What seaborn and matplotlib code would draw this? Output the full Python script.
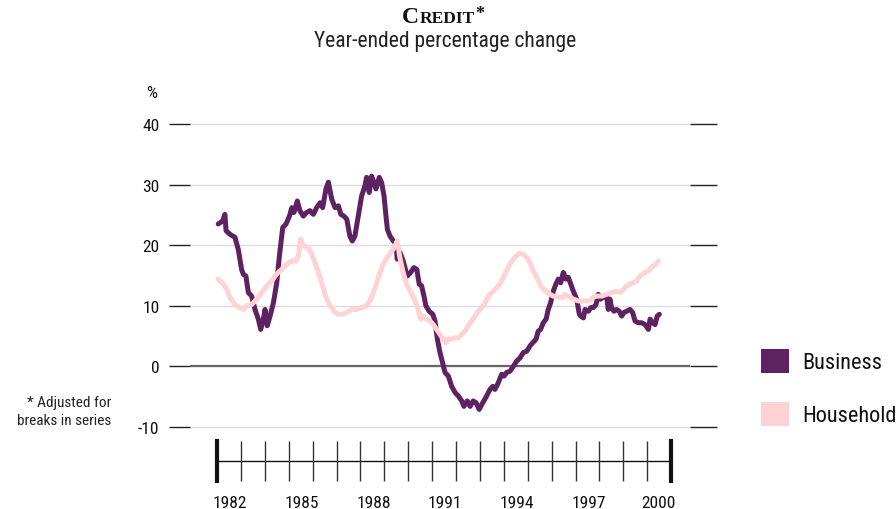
import matplotlib
matplotlib.use("Agg")
import matplotlib.pyplot as plt
from matplotlib import font_manager
from matplotlib.patches import Patch
import pandas as pd
import seaborn as sns

# ---- data (year-ended % change) ----------------------------------------------
BUSINESS_YEAR = [
    1982.05, 1982.24, 1982.33, 1982.38, 1982.54, 1982.75, 1982.89,
    1983.03, 1983.10, 1983.21, 1983.31, 1983.45, 1983.59, 1983.73, 1983.83, 1983.94,
    1984.01, 1984.10, 1984.22, 1984.36, 1984.50, 1984.61, 1984.75, 1984.89,
    1985.03, 1985.13, 1985.22, 1985.36, 1985.47, 1985.61, 1985.75, 1985.89,
    1986.03, 1986.17, 1986.31, 1986.42, 1986.56, 1986.66, 1986.80, 1986.94,
    1987.08, 1987.18, 1987.31, 1987.43, 1987.56, 1987.66, 1987.77, 1987.91,
    1988.05, 1988.19, 1988.26, 1988.37, 1988.47, 1988.57, 1988.65, 1988.79, 1988.89, 1988.99,
    1989.07, 1989.13, 1989.24, 1989.38, 1989.49, 1989.54, 1989.66, 1989.79, 1989.96,
    1990.10, 1990.24, 1990.36, 1990.46, 1990.56, 1990.66, 1990.74, 1990.88,
    1991.03, 1991.12, 1991.22, 1991.33, 1991.44, 1991.54, 1991.68, 1991.82, 1991.96,
    1992.10, 1992.24, 1992.33, 1992.47, 1992.59, 1992.72, 1992.84, 1992.97,
    1993.12, 1993.28, 1993.42, 1993.54, 1993.63, 1993.77, 1993.91,
    1994.01, 1994.12, 1994.26, 1994.40, 1994.54, 1994.68, 1994.82, 1994.96,
    1995.10, 1995.21, 1995.35, 1995.44, 1995.54, 1995.65, 1995.77, 1995.86, 1995.96,
    1996.07, 1996.18, 1996.28, 1996.38, 1996.49, 1996.60, 1996.70, 1996.80, 1996.91,
    1997.05, 1997.16, 1997.22, 1997.33, 1997.40, 1997.54, 1997.64, 1997.74, 1997.86, 1997.95,
    1998.05, 1998.16, 1998.31, 1998.37, 1998.44, 1998.51, 1998.61, 1998.72, 1998.83, 1998.93,
    1999.03, 1999.14, 1999.28, 1999.39, 1999.49, 1999.63, 1999.77, 1999.91,
    2000.05, 2000.12, 2000.23, 2000.33, 2000.42, 2000.51,
]
BUSINESS_VAL = [
    23.5, 24.0, 25.1, 22.4, 21.8, 21.3, 19.3,
    16.0, 15.2, 14.9, 12.2, 11.6, 9.4, 7.8, 6.1, 7.8,
    9.4, 6.7, 8.3, 10.5, 13.8, 18.2, 22.9, 23.5,
    24.8, 26.2, 25.4, 27.3, 25.7, 24.8, 25.4, 25.7,
    25.1, 26.2, 27.0, 26.2, 29.3, 30.4, 27.6, 26.2,
    26.5, 25.1, 24.8, 24.3, 21.5, 20.7, 21.5, 24.8,
    28.1, 29.8, 31.2, 28.7, 31.4, 30.3, 29.3, 31.2, 30.3, 28.1,
    24.8, 22.6, 21.5, 20.7, 20.2, 17.7, 18.8, 17.4, 14.9,
    15.5, 16.3, 16.0, 13.6, 13.3, 11.6, 10.0, 9.1,
    8.6, 7.5, 4.5, 2.3, 0.6, -1.0, -1.6, -3.3, -4.3,
    -4.9, -5.7, -6.6, -5.7, -6.6, -5.7, -6.0, -7.1,
    -6.0, -4.9, -3.8, -3.3, -3.8, -2.7, -1.3,
    -1.6, -1.0, -0.8, 0.0, 0.9, 1.4, 2.3, 2.5,
    3.4, 3.9, 4.5, 5.8, 6.1, 7.2, 7.8, 9.4, 10.5,
    12.4, 13.6, 14.4, 13.8, 15.5, 14.4, 14.7, 13.6, 12.4,
    11.1, 8.6, 8.3, 8.0, 9.4, 9.1, 9.7, 9.7, 10.2, 11.9,
    11.1, 11.4, 11.4, 9.4, 11.1, 9.7, 9.1, 9.4, 9.1, 8.3,
    8.9, 9.1, 9.4, 8.9, 7.5, 7.2, 7.2, 6.9,
    6.1, 7.8, 7.2, 6.9, 8.3, 8.6,
]
HOUSEHOLD_YEAR = [
    1982.05, 1982.26, 1982.41, 1982.54, 1982.75, 1982.96,
    1983.10, 1983.24, 1983.45, 1983.66, 1983.87,
    1984.08, 1984.29, 1984.43, 1984.56, 1984.71, 1984.92,
    1985.13, 1985.31, 1985.40, 1985.50, 1985.61, 1985.82, 1985.96,
    1986.10, 1986.24, 1986.38, 1986.52, 1986.66, 1986.80, 1986.94,
    1987.08, 1987.22, 1987.43, 1987.64, 1987.85,
    1988.05, 1988.26, 1988.40, 1988.54, 1988.68, 1988.82, 1988.96,
    1989.13, 1989.27, 1989.41, 1989.54, 1989.66, 1989.79, 1989.93,
    1990.07, 1990.21, 1990.32, 1990.42, 1990.52, 1990.63, 1990.77, 1990.91,
    1991.05, 1991.19, 1991.33, 1991.47, 1991.58, 1991.68, 1991.82, 1991.96,
    1992.10, 1992.24, 1992.38, 1992.51, 1992.66, 1992.79, 1992.93,
    1993.08, 1993.21, 1993.42, 1993.56, 1993.70, 1993.84, 1993.98,
    1994.12, 1994.26, 1994.40, 1994.54, 1994.68, 1994.82, 1994.96,
    1995.10, 1995.23, 1995.38, 1995.51, 1995.65, 1995.79, 1995.93,
    1996.07, 1996.28, 1996.49, 1996.56, 1996.70, 1996.91,
    1997.12, 1997.40, 1997.61, 1997.74, 1997.89,
    1998.10, 1998.31, 1998.51, 1998.72, 1998.86,
    1999.00, 1999.14, 1999.28, 1999.42, 1999.56, 1999.70, 1999.91,
    2000.12, 2000.26, 2000.37, 2000.47,
]
HOUSEHOLD_VAL = [
    14.4, 13.6, 12.7, 11.4, 10.2, 9.7,
    9.4, 10.0, 10.2, 11.1, 12.2,
    13.3, 14.1, 14.9, 15.5, 16.0, 16.9,
    17.4, 17.4, 18.2, 21.0, 19.9, 19.6, 18.5,
    17.1, 15.5, 13.8, 11.9, 10.5, 9.7, 8.9,
    8.6, 8.6, 8.9, 9.4, 9.4,
    9.7, 10.0, 10.8, 12.2, 13.8, 15.5, 16.9,
    18.0, 18.8, 19.6, 20.7, 17.8, 15.5, 13.6,
    12.5, 11.4, 10.5, 9.4, 7.8, 8.3, 7.8, 7.5,
    6.9, 6.1, 5.3, 4.5, 3.9, 4.5, 4.5, 4.7,
    4.7, 5.3, 5.8, 6.7, 7.5, 8.3, 9.1,
    9.7, 10.5, 12.0, 12.4, 13.0, 13.6, 14.7,
    15.8, 16.9, 17.7, 18.3, 18.7, 18.5, 18.0,
    17.1, 15.8, 14.7, 13.6, 12.7, 12.4, 11.9,
    11.6, 11.4, 11.4, 11.9, 11.6, 11.1,
    10.8, 10.8, 10.8, 11.4, 11.6,
    11.6, 11.9, 12.2, 12.4, 12.2,
    12.7, 13.3, 13.6, 13.8, 14.1, 14.9, 15.5,
    16.0, 16.6, 16.9, 17.4,
]
SERIES = ["Business", "Household"]
COLORS = {"Business": "#5e2161", "Household": "#ffd3d3"}
Y_TICKS = [-10, 0, 10, 20, 30, 40]
YEAR_LABELS = [1982, 1985, 1988, 1991, 1994, 1997, 2000]
FIRST_YEAR, LAST_YEAR = 1982, 2001


def pick_font(names):
    have = {f.name for f in font_manager.fontManager.ttflist}
    for n in names:
        if n in have:
            return n
    return "DejaVu Sans"


W, H = 896, 510


def fx(px):
    return px / W


def fy(py):
    return 1 - py / H


sns.set_style("white")
narrow = pick_font(["Liberation Sans Narrow", "DejaVu Sans Condensed", "Roboto Condensed"])
serif = pick_font(["Liberation Serif", "DejaVu Serif"])
plt.rcParams["font.family"] = [narrow, "DejaVu Sans"]

df = pd.concat([
    pd.DataFrame({"year": BUSINESS_YEAR, "value": BUSINESS_VAL, "series": "Business"}),
    pd.DataFrame({"year": HOUSEHOLD_YEAR, "value": HOUSEHOLD_VAL, "series": "Household"}),
])

fig = plt.figure(figsize=(W / 100, H / 100), dpi=100)
ppy = 23.9  # pixels per year on the time bar
x0 = FIRST_YEAR - (217 - 190) / ppy
x1 = FIRST_YEAR + (690 - 217) / ppy

# ---- main panel --------------------------------------------------------------
ax = fig.add_axes([fx(190), fy(440.1), fx(500), 327.2 / H])
for s in SERIES:
    sns.lineplot(data=df[df.series == s], x="year", y="value", color=COLORS[s],
                 linewidth=3.6, sort=False, estimator=None, ax=ax, legend=False)
ax.set_xlim(x0, x1)
ax.set_ylim(-12, 42)
ax.set_yticks(Y_TICKS)
ax.set_yticklabels([str(v) for v in Y_TICKS], fontsize=12.5)
ax.set_xticks([])
ax.set_xlabel("")
ax.set_ylabel("")
for sp in ax.spines.values():
    sp.set_visible(False)
ax.grid(axis="y", color="#dcdcdc", lw=1)
ax.grid(axis="x", visible=False)
ax.axhline(0, color="#666666", lw=1.6, zorder=1)
ax.tick_params(axis="y", left=True, length=15, width=1, color="#222222", pad=7,
               labelcolor="#111111")
axr = ax.twinx()
axr.set_ylim(ax.get_ylim())
axr.set_yticks(Y_TICKS)
axr.tick_params(axis="y", right=True, length=19.5, width=1, color="#222222", labelright=False)
for sp in axr.spines.values():
    sp.set_visible(False)
axr.grid(False)

fig.text(fx(152), fy(94), "%", ha="center", va="center", fontsize=12.5, color="#111111")

# ---- time bar ----------------------------------------------------------------
axt = fig.add_axes([fx(190), fy(484), fx(500), 44 / H])
axt.set_xlim(x0, x1)
axt.set_ylim(-1, 1)
years = list(range(FIRST_YEAR, LAST_YEAR + 1))
axt.hlines(0, FIRST_YEAR, LAST_YEAR, color="#111111", lw=1)
axt.vlines(years[1:-1], -0.9, 0.9, color="#333333", lw=1)
axt.vlines([FIRST_YEAR, LAST_YEAR], -1, 1, color="#111111", lw=3)
axt.set_xticks([y + 0.55 for y in YEAR_LABELS[:-1]] + [YEAR_LABELS[-1] + 0.45])
axt.set_xticklabels([str(y) for y in YEAR_LABELS], fontsize=12.5, color="#111111")
axt.tick_params(axis="x", length=0, pad=9)
axt.set_yticks([])
for sp in axt.spines.values():
    sp.set_visible(False)

# ---- titles ------------------------------------------------------------------
title_kw = dict(fontweight="bold", family=serif, ha="left", va="baseline", color="#111111")
t1 = fig.text(fx(402), fy(23), "C", fontsize=17, **title_kw)
fig.canvas.draw()
bb = t1.get_window_extent()
t2 = fig.text((bb.x1 + 0.5) / W, fy(23), "REDIT", fontsize=12.5, **title_kw)
fig.canvas.draw()
bb2 = t2.get_window_extent()
fig.text((bb2.x1 + 0.5) / W, fy(19), "*", fontsize=13, **title_kw)
fig.text(fx(445), fy(47), "Year-ended percentage change", fontsize=15.5, ha="center",
         va="baseline", color="#222222")

fig.text(fx(111), fy(412), "* Adjusted for\nbreaks in series", fontsize=11, ha="right",
         va="center", linespacing=1.3, color="#222222")

# ---- legend ------------------------------------------------------------------
handles = [Patch(facecolor=COLORS[s], edgecolor="none", label=s) for s in SERIES]
fig.legend(handles=handles, loc="upper left", bbox_to_anchor=(fx(761), fy(350)),
           frameon=False, fontsize=16, handlelength=1.27, handleheight=1.25,
           handletextpad=0.6, labelspacing=1.3, borderpad=0, borderaxespad=0,
           labelcolor="#111111")

fig.savefig("out.png", dpi=100)
